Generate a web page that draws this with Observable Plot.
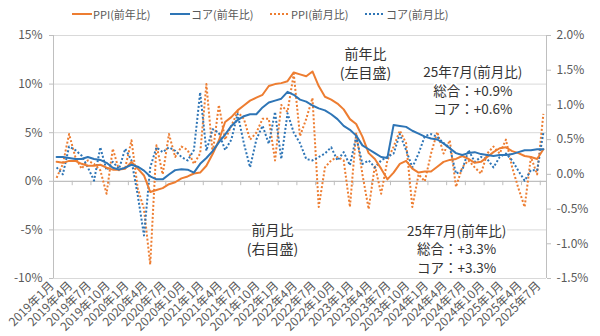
<!DOCTYPE html>
<html><head><meta charset="utf-8">
<script src="https://cdn.jsdelivr.net/npm/d3@7"></script>
<script src="https://cdn.jsdelivr.net/npm/@observablehq/plot@0.6"></script>
<style>
body{margin:0;background:#fff;font-family:"Noto Sans CJK JP","Noto Sans",sans-serif;}
#legend{height:28px;position:relative;font-size:11px;color:#595959;}
.item{position:absolute;top:6px;display:flex;align-items:center;white-space:nowrap;}
.item svg{margin-right:1px;}
#chart svg{overflow:visible;}
</style></head><body>
<div id="legend"></div><div id="chart"></div>
<script>
// Series (monthly, 2019年1月 … 2025年7月)
const ppiYoY = [
 2.0,1.9,2.1,2.1,1.8,1.6,1.6,1.7,1.4,1.2,1.2,1.3,
 2.0,1.3,0.6,-1.1,-0.9,-0.7,-0.3,-0.1,0.3,0.5,0.8,0.9,
 1.6,2.8,4.2,6.1,6.6,7.3,7.8,8.3,8.6,8.9,9.8,10.0,
 10.1,10.3,11.2,11.0,10.8,11.3,9.8,8.7,8.4,8.0,7.4,6.4,
 5.9,4.6,2.9,2.3,1.3,0.2,0.9,1.8,2.1,1.3,0.9,1.0,
 1.0,1.5,2.0,2.2,2.3,2.6,2.3,1.9,2.0,2.5,3.0,3.4,
 3.5,3.1,2.9,2.6,2.5,2.3,3.3];
const coreYoY = [
 2.5,2.5,2.4,2.3,2.3,2.5,2.3,2.2,1.9,1.4,1.2,1.4,
 1.7,1.5,1.1,0.5,0.2,0.2,0.7,1.15,1.25,1.2,0.9,1.8,
 2.4,3.1,4.0,4.8,5.7,6.3,6.7,6.9,6.9,7.6,8.1,8.3,
 8.5,9.2,8.9,8.4,8.2,7.8,7.5,7.3,6.9,6.4,5.7,5.3,
 4.7,3.7,3.3,2.9,2.5,2.4,5.8,5.7,5.6,5.2,4.9,4.6,
 4.4,4.3,3.9,3.4,2.9,2.7,2.9,3.0,2.8,2.7,2.6,2.7,
 2.7,2.8,3.0,3.2,3.2,3.3,3.3];
const ppiMoM = [
 -0.05,0.15,0.58,0.25,0.08,0.2,0.15,0.06,-0.28,0.37,0.06,0.1,
 0.49,-0.2,-0.5,-1.3,0.42,0.0,0.58,0.25,0.4,0.35,0.15,0.3,
 1.3,0.3,1.0,0.5,0.7,0.9,0.8,0.5,0.6,0.8,0.8,0.2,
 1.0,0.9,1.45,0.55,0.8,1.1,-0.47,0.1,0.2,0.25,0.2,-0.47,
 0.6,0.0,-0.5,0.13,-0.28,0.2,0.4,0.63,0.45,-0.47,0.0,-0.1,
 0.3,0.61,0.3,0.49,-0.18,0.1,0.2,0.1,0.01,0.3,0.4,0.3,
 0.5,0.1,-0.2,-0.47,0.25,0.0,0.87];
const coreMoM = [
 0.1,0.0,0.4,0.35,0.27,0.1,-0.09,0.39,0.06,0.18,0.08,0.37,
 0.2,-0.3,-0.88,0.1,0.39,0.32,0.39,0.34,0.25,0.2,0.35,1.18,
 0.34,0.65,0.6,0.35,0.5,0.87,0.45,0.1,0.5,0.7,0.44,0.9,
 0.22,0.88,0.6,0.45,0.22,0.2,0.25,0.3,0.39,0.2,0.32,0.13,
 0.54,0.15,0.2,0.1,0.2,0.25,0.3,0.58,0.35,0.1,0.3,0.55,
 0.58,0.54,0.45,0.39,0.01,0.06,0.35,0.18,0.25,0.22,0.1,0.25,
 0.3,0.2,0.05,-0.09,0.06,0.06,0.6];

// Tick labels (every 3 months)
const tickLabels = ["2019年1月","2019年4月","2019年7月","2019年10月","2020年1月","2020年4月","2020年7月","2020年10月",
 "2021年1月","2021年4月","2021年7月","2021年10月","2022年1月","2022年4月","2022年7月","2022年10月",
 "2023年1月","2023年4月","2023年7月","2023年10月","2024年1月","2024年4月","2024年7月","2024年10月",
 "2025年1月","2025年4月","2025年7月"];
const leftTicks = [-10,-5,0,5,10,15];
const rightTicks = [-1.5,-1.0,-0.5,0.0,0.5,1.0,1.5,2.0];
const seriesNames = ["PPI(前年比)","コア(前年比)","PPI(前月比)","コア(前月比)"];

const ORANGE = "#ED7D31", BLUE = "#2E75B6", GREY = "#595959";
const n = ppiYoY.length;
const idx = d3.range(n);
const tickIdx = tickLabels.map((_, k) => k * 3);
// map right-axis value into left-axis units (right: -1.5..2.0  <->  left: -10..15)
const toLeft = v => (v + 1.5) * 25 / 3.5 - 10;

// Legend
const legendSpec = [
 {name: seriesNames[0], color: ORANGE, dash: null, left: 72},
 {name: seriesNames[1], color: BLUE, dash: null, left: 170},
 {name: seriesNames[2], color: ORANGE, dash: "2,2", left: 270},
 {name: seriesNames[3], color: BLUE, dash: "2,2", left: 365}
];
const lg = document.getElementById("legend");
for (const s of legendSpec) {
  const el = document.createElement("div");
  el.className = "item";
  el.style.left = s.left + "px";
  el.innerHTML = `<svg width="20" height="10"><line x1="0" x2="20" y1="5" y2="5" stroke="${s.color}" stroke-width="2" ${s.dash ? `stroke-dasharray="${s.dash}"` : ""}/></svg><span>${s.name}</span>`;
  lg.appendChild(el);
}

const ff = '"Noto Sans CJK JP","Noto Sans",sans-serif';
const chart = Plot.plot({
  width: 600, height: 308,
  marginTop: 7, marginBottom: 58, marginLeft: 53, marginRight: 54,
  x: {type: "linear", domain: [-0.5, n - 0.5], axis: null},
  y: {domain: [-10, 15], axis: null},
  style: {fontFamily: ff, fontSize: "12px", color: GREY, background: "white"},
  marks: [
    Plot.ruleY([15, 10, 5, -5, -10], {stroke: "#d9d9d9", strokeWidth: 1}),
    Plot.ruleX([-0.5, n - 0.5], {stroke: "#bfbfbf", strokeWidth: 1}),
    Plot.ruleY([0], {stroke: "#bfbfbf", strokeWidth: 1.3}),
    Plot.ruleX(tickIdx, {x: d => d - 0.5, y1: 0, y2: -0.45, stroke: "#bfbfbf"}),
    Plot.axisY({anchor: "left", ticks: leftTicks, tickFormat: d => d + "%", tickSize: 4, tickPadding: 7, stroke: "#bfbfbf", fill: GREY, fontSize: 12, label: null}),
    Plot.axisY({anchor: "right", ticks: rightTicks.map(toLeft), tickFormat: (d, i) => rightTicks[i].toFixed(1) + "%", tickSize: 4, tickPadding: 6, stroke: "#bfbfbf", fill: GREY, fontSize: 12, label: null}),
    Plot.text(tickLabels, {x: tickIdx, frameAnchor: "bottom", rotate: -45, textAnchor: "end", dy: 8, dx: -2, fontSize: 12, fill: GREY}),
    Plot.line(idx, {x: i => i, y: i => toLeft(ppiMoM[i]), stroke: ORANGE, strokeWidth: 2, strokeDasharray: "2,2", strokeLinecap: "butt"}),
    Plot.line(idx, {x: i => i, y: i => toLeft(coreMoM[i]), stroke: BLUE, strokeWidth: 2, strokeDasharray: "2,2", strokeLinecap: "butt"}),
    Plot.line(idx, {x: i => i, y: i => ppiYoY[i], stroke: ORANGE, strokeWidth: 2}),
    Plot.line(idx, {x: i => i, y: i => coreYoY[i], stroke: BLUE, strokeWidth: 2}),
    Plot.text(["前年比\n(左目盛)"], {x: 49.5, y: 12.2, fontSize: 14, fill: "#333", lineHeight: 1.35, stroke: "white", strokeWidth: 4}),
    Plot.text(["前月比\n(右目盛)"], {x: 34.6, y: -5.9, fontSize: 14, fill: "#333", lineHeight: 1.3, stroke: "white", strokeWidth: 4}),
    Plot.text(["25年7月(前月比)\n総合：+0.9%\nコア：+0.6%"], {x: 66.7, y: 9.4, fontSize: 13.5, fill: "#333", lineHeight: 1.37, stroke: "white", strokeWidth: 4}),
    Plot.text(["25年7月(前年比)\n総合：+3.3%\nコア：+3.3%"], {x: 64.1, y: -6.9, fontSize: 13.5, fill: "#333", lineHeight: 1.37, stroke: "white", strokeWidth: 4})
  ]
});
document.getElementById("chart").appendChild(chart);
</script>
</body></html>
